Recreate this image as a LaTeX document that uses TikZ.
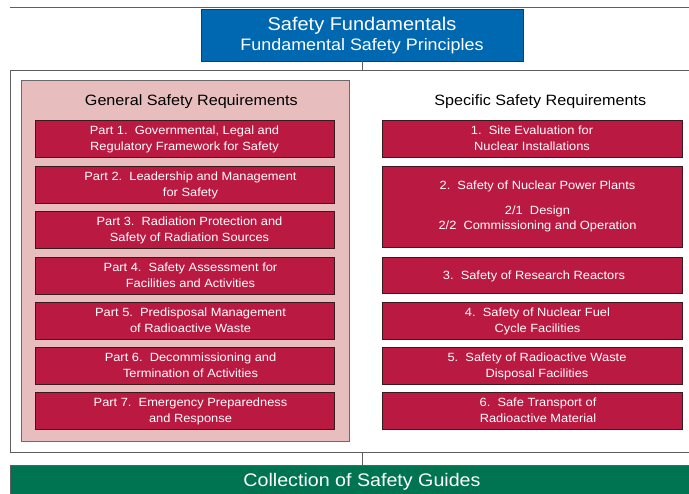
\documentclass[tikz,border=0pt]{standalone}
\usepackage{fontspec}
\setmainfont{Liberation Sans}[FakeStretch=1.08]
\definecolor{iaeablue}{HTML}{0067B1}
\definecolor{crim}{HTML}{BA1A42}
\definecolor{crimdraw}{HTML}{3A1A1E}
\definecolor{pinkfill}{HTML}{E8BDBD}
\definecolor{pinkdraw}{HTML}{6A6A6A}
\definecolor{guidegreen}{HTML}{007450}
\definecolor{framegray}{HTML}{5E5E5E}
\newcommand{\boxtxt}[2]{\raisebox{-1pt}[\height][\depth]{\begin{tabular}{@{\hspace{#1}}c@{}}#2\end{tabular}}}
\tikzset{
  reqbox/.style={draw=crimdraw, line width=0.9pt, fill=crim, text=white,
    minimum width=299pt, minimum height=37pt, inner sep=0pt, outer sep=0pt,
    align=center, font=\fontsize{11.9}{16}\selectfont},
  specbox/.style={reqbox, minimum width=300pt},
  headtxt/.style={font=\fontsize{14.95}{18}\selectfont, text=black, inner sep=0pt},
  conn/.style={draw=framegray, line width=0.9pt}
}
\begin{document}
\begin{tikzpicture}[x=1pt,y=-1pt]
\useasboundingbox (0,0) rectangle (689,494);
% top rule
\coordinate (tl) at (10,7.5);
\coordinate (tr) at (720,7.5);
\draw[conn] (tl) -- (tr);
% outer frame
\node[draw=framegray, line width=1pt, minimum width=704pt, minimum height=382pt, inner sep=0pt, outer sep=0pt] (outer) at (362,261.5) {};
% blue fundamentals box
\node[draw=crimdraw!60!iaeablue, line width=0.9pt, fill=iaeablue, text=white, minimum width=322pt, minimum height=52pt, inner sep=0pt, outer sep=0pt, align=center, font=\fontsize{18.5}{19.4}\selectfont] (fund) at (362,35.5) {Safety Fundamentals\\{\fontsize{16.6}{19.4}\selectfont Fundamental Safety Principles}};
% green guides bar
\node[draw=framegray, line width=0.9pt, fill=guidegreen, text=white, minimum width=704pt, minimum height=34pt, inner sep=0pt, outer sep=0pt, font=\fontsize{18.2}{20}\selectfont] (guides) at (362,482) {Collection of Safety Guides};
% connectors
\draw[conn] (fund.south) -- (fund.south |- outer.north);
\draw[conn] (outer.south -| fund.south) -- (guides.north -| fund.south);
% pink panel
\node[draw=pinkdraw, line width=1pt, fill=pinkfill, minimum width=328pt, minimum height=361pt, inner sep=0pt, outer sep=0pt] (general) at (185,261.5) {};
\node[headtxt] (gentitle) at (191.3,101.3) {General Safety Requirements};
\node[headtxt] (spectitle) at (540.3,101.3) {Specific Safety Requirements};
% general parts
\node[reqbox] (p1) at (184.5,138.5) {\boxtxt{0pt}{Part 1.\ \ Governmental, Legal and\\Regulatory Framework for Safety}};
\node[reqbox] (p2) at (184.5,184.5) {\boxtxt{12pt}{Part 2.\ \ Leadership and Management\\for Safety}};
\node[reqbox] (p3) at (184.5,229.5) {\boxtxt{10pt}{Part 3.\ \ Radiation Protection and\\Safety of Radiation Sources}};
\node[reqbox] (p4) at (184.5,275.5) {\boxtxt{12pt}{Part 4.\ \ Safety Assessment for\\Facilities and Activities}};
\node[reqbox] (p5) at (184.5,320.5) {\boxtxt{12pt}{Part 5.\ \ Predisposal Management\\of Radioactive Waste}};
\node[reqbox] (p6) at (184.5,365.5) {\boxtxt{12pt}{Part 6.\ \ Decommissioning and\\Termination of Activities}};
\node[reqbox] (p7) at (184.5,410.5) {\boxtxt{12pt}{Part 7.\ \ Emergency Preparedness\\and Response}};
% specific
\node[specbox] (s1) at (532,138.5) {\boxtxt{0pt}{1.\ \ Site Evaluation for\\Nuclear Installations}};
\node[specbox, minimum height=81pt] (s2) at (532,206.5) {\fontsize{11.9}{15}\selectfont\begin{tabular}{@{\hspace{11pt}}c@{}}2.\ \ Safety of Nuclear Power Plants\\[10pt]2/1\ \ Design\\2/2\ \ Commissioning and Operation\end{tabular}};
\node[specbox, minimum height=36pt] (s3) at (532,275) {\boxtxt{4pt}{3.\ \ Safety of Research Reactors}};
\node[specbox] (s4) at (532,320.5) {\boxtxt{11pt}{4.\ \ Safety of Nuclear Fuel\\Cycle Facilities}};
\node[specbox] (s5) at (532,365.5) {\boxtxt{10pt}{5.\ \ Safety of Radioactive Waste\\Disposal Facilities}};
\node[specbox] (s6) at (532,410.5) {\boxtxt{12pt}{6.\ \ Safe Transport of\\Radioactive Material}};
\end{tikzpicture}
\end{document}
